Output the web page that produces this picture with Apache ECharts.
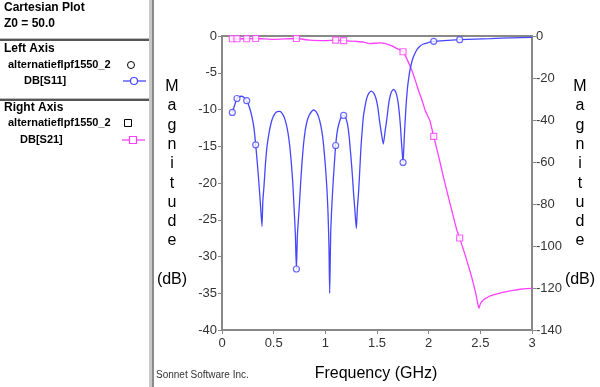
<!DOCTYPE html>
<html>
<head>
<meta charset="utf-8">
<script src="https://cdn.jsdelivr.net/npm/echarts@6/dist/echarts.min.js"></script>
<style>
html,body{margin:0;padding:0;background:#fff;}
#chart{width:600px;height:387px;}
</style>
</head>
<body>
<div id="chart"></div>
<script>
// ---- data ----
var s11Freq = [0.10,0.145,0.165,0.187,0.21,0.239,0.265,0.29,0.31,0.326,0.34,0.355,0.37,0.387,
  0.395,0.406,0.42,0.435,0.455,0.474,0.495,0.516,0.535,0.555,0.575,0.60,0.62,0.639,0.655,0.671,0.685,0.697,0.71,0.72,
  0.73,0.748,0.762,0.774,0.79,0.806,0.825,0.845,0.865,0.887,0.91,0.935,0.955,0.974,0.99,1.006,1.018,1.026,1.035,1.042,
  1.052,1.065,1.077,1.09,1.10,1.115,1.132,1.155,1.177,1.195,1.213,1.23,1.245,1.26,1.271,1.285,1.30,
  1.31,1.323,1.335,1.345,1.357,1.368,1.385,1.40,1.42,1.445,1.47,1.49,1.508,1.523,1.54,1.561,
  1.578,1.594,1.607,1.619,1.64,1.661,1.677,1.69,1.704,1.716,1.726,1.735,1.745,1.752,
  1.765,1.781,1.793,1.805,1.819,1.842,1.86,1.884,1.91,1.948,2.0,2.049,2.15,2.30,2.45,2.60,2.8,3.0];
var s11Db = [-10.4,-8.5,-8.25,-8.2,-8.35,-8.8,-9.7,-11.0,-12.6,-14.8,-17.0,-19.6,-22.5,-25.9,
  -22.5,-20.5,-17.5,-15.1,-13.2,-11.9,-11.0,-10.5,-10.3,-10.25,-10.4,-11.0,-11.9,-13.2,-14.9,-17.3,-20.0,-23.2,-27.0,-31.7,
  -27.0,-23.2,-19.8,-17.3,-14.6,-12.8,-11.5,-10.75,-10.3,-10.07,-10.3,-11.0,-12.1,-13.7,-15.9,-18.7,-21.5,-24.1,-28.5,-35.0,
  -26.8,-22.5,-19.6,-16.8,-14.9,-13.0,-11.9,-11.0,-10.8,-11.1,-11.9,-13.6,-16.0,-18.6,-20.95,-23.5,-26.2,
  -23.5,-20.95,-17.8,-15.1,-12.8,-11.0,-9.5,-8.5,-7.8,-7.5,-7.8,-8.5,-9.7,-11.4,-13.0,-14.7,
  -13.0,-11.4,-9.9,-8.7,-7.6,-7.26,-7.5,-8.0,-9.0,-10.5,-12.1,-14.1,-16.0,-17.2,
  -13.5,-9.5,-7.35,-5.9,-4.63,-3.27,-2.6,-1.9,-1.45,-1.09,-0.88,-0.73,-0.62,-0.5,-0.42,-0.35,-0.25,-0.18];
var s21Freq = [0.10,0.145,0.239,0.326,0.5,0.72,0.85,1.0,1.10,1.177,1.3,1.37,1.43,1.53,1.626,1.69,1.752,
  1.79,1.836,1.87,1.90,1.935,1.965,1.99,2.013,2.03,2.049,2.1,2.142,2.19,2.239,2.27,2.30,2.335,2.368,2.40,2.432,2.46,2.487,
  2.50,2.529,2.575,2.626,2.69,2.755,2.82,2.887,2.95,3.0];
var s21Db = [-1.3,-1.3,-1.3,-1.2,-1.6,-1.2,-2.0,-2.2,-2.0,-2.2,-2.6,-2.9,-3.6,-3.3,-4.3,-5.9,-7.5,
  -11,-16.2,-21,-25.7,-30.5,-35.2,-38,-40.5,-44,-47.8,-58,-67,-76.5,-86,-92,-96.2,-101.5,-106.7,-112,-117.8,-123.5,-129.7,
  -127.5,-125.7,-124.3,-123.3,-122.4,-121.7,-121.1,-120.6,-120.3,-120.2];
var markFreq = [0.10,0.145,0.239,0.326,0.72,1.10,1.177,1.752,2.049,2.30];
var s11Mark  = [-10.4,-8.5,-8.8,-14.8,-31.7,-14.9,-10.8,-17.2,-0.73,-0.5];
var s21Mark  = [-1.3,-1.3,-1.3,-1.2,-1.2,-2.0,-2.2,-7.5,-47.8,-96.2];
var xTicks = {min:0, max:3, step:0.5};
var leftTicks = {min:-40, max:0, step:5};
var rightTicks = {min:-140, max:0, step:20};

function pairs(xs, ys){ return xs.map(function(x,i){ return [x, ys[i]]; }); }

var BLUE = '#4646ff', MAG = '#ff40ff';
var FONT = '"Liberation Sans", Arial, sans-serif';

var chart = echarts.init(document.getElementById('chart'), null, {renderer:'canvas'});

var axisCommon = {
  axisLine:{show:true, onZero:false, lineStyle:{color:'#888', width:2}},
  axisTick:{show:true, length:4, lineStyle:{color:'#888', width:1}},
  splitLine:{show:false}
};

var vtitle = 'M\na\ng\nn\ni\nt\nu\nd\ne\n\n(dB)';

var option = {
  animation:false,
  backgroundColor:'#fff',
  grid:{left:222, right:68, top:36, bottom:57, show:true, borderColor:'#888', borderWidth:2, backgroundColor:'transparent'},
  xAxis:Object.assign({type:'value', min:xTicks.min, max:xTicks.max, interval:xTicks.step}, axisCommon,
    {axisLabel:{color:'#333', fontSize:13, fontFamily:FONT, margin:7}}),
  yAxis:[
    Object.assign({type:'value', position:'left', min:leftTicks.min, max:leftTicks.max, interval:leftTicks.step}, axisCommon,
      {axisLabel:{color:'#333', fontSize:13, fontFamily:FONT, margin:5}}),
    Object.assign({type:'value', position:'right', min:rightTicks.min, max:rightTicks.max, interval:rightTicks.step}, axisCommon,
      {axisLabel:{color:'#333', fontSize:13, fontFamily:FONT, margin:4}})
  ],
  series:[
    {type:'line', yAxisIndex:0, data:pairs(s11Freq, s11Db), showSymbol:false, smooth:0.2,
     lineStyle:{color:BLUE, width:1.3}, itemStyle:{color:BLUE}, z:3},
    {type:'scatter', yAxisIndex:0, data:pairs(markFreq, s11Mark), symbol:'circle', symbolSize:6,
     itemStyle:{color:'#fff', borderColor:BLUE, borderWidth:1.2}, z:5},
    {type:'line', yAxisIndex:1, data:pairs(s21Freq, s21Db), showSymbol:false, smooth:0.2,
     lineStyle:{color:MAG, width:1.3}, itemStyle:{color:MAG}, z:2},
    {type:'scatter', yAxisIndex:1, data:pairs(markFreq, s21Mark), symbol:'rect', symbolSize:6,
     itemStyle:{color:'#fff', borderColor:MAG, borderWidth:1.2}, z:4}
  ],
  graphic:[
    // left panel
    {type:'text', left:4, top:2, style:{text:'Cartesian Plot', font:'bold 12px '+FONT, fill:'#000'}},
    {type:'text', left:4, top:18, style:{text:'Z0 = 50.0', font:'bold 12px '+FONT, fill:'#000'}},
    {type:'rect', shape:{x:0, y:38, width:150, height:1}, style:{fill:'#bbb'}},
    {type:'rect', shape:{x:0, y:39, width:150, height:2}, style:{fill:'#555'}},
    {type:'text', left:4, top:43, style:{text:'Left Axis', font:'bold 12px '+FONT, fill:'#000'}},
    {type:'text', left:8, top:59, style:{text:'alternatieflpf1550_2', font:'bold 11px '+FONT, fill:'#000'}},
    {type:'circle', shape:{cx:131, cy:65, r:3.5}, style:{fill:'#fff', stroke:'#000', lineWidth:1}},
    {type:'text', left:24, top:75, style:{text:'DB[S11]', font:'bold 11px '+FONT, fill:'#000'}},
    {type:'line', shape:{x1:123, y1:81, x2:146, y2:81}, style:{stroke:BLUE, lineWidth:1.3}},
    {type:'circle', shape:{cx:134, cy:81, r:3.5}, style:{fill:'#fff', stroke:BLUE, lineWidth:1.2}},
    {type:'rect', shape:{x:0, y:98, width:150, height:1}, style:{fill:'#bbb'}},
    {type:'rect', shape:{x:0, y:99, width:150, height:2}, style:{fill:'#555'}},
    {type:'text', left:4, top:102, style:{text:'Right Axis', font:'bold 12px '+FONT, fill:'#000'}},
    {type:'text', left:8, top:117, style:{text:'alternatieflpf1550_2', font:'bold 11px '+FONT, fill:'#000'}},
    {type:'rect', shape:{x:124.5, y:119.5, width:7, height:7}, style:{fill:'#fff', stroke:'#000', lineWidth:1}},
    {type:'text', left:20, top:134, style:{text:'DB[S21]', font:'bold 11px '+FONT, fill:'#000'}},
    {type:'line', shape:{x1:122, y1:140, x2:145, y2:140}, style:{stroke:MAG, lineWidth:1.3}},
    {type:'rect', shape:{x:129.5, y:136.5, width:7, height:7}, style:{fill:'#fff', stroke:MAG, lineWidth:1.2}},
    {type:'rect', shape:{x:149, y:0, width:3, height:387}, style:{fill:'#c8c8c8'}},
    {type:'rect', shape:{x:152, y:0, width:2, height:387}, style:{fill:'#8a8a8a'}},
    // axis titles
    {type:'text', x:172, y:77, style:{text:vtitle, font:'16px '+FONT, fill:'#000', textAlign:'center', lineHeight:19.3}},
    {type:'text', x:580, y:77, style:{text:vtitle, font:'16px '+FONT, fill:'#000', textAlign:'center', lineHeight:19.3}},
    {type:'text', x:376, y:366, style:{text:'Frequency (GHz)', font:'16px '+FONT, fill:'#000', textAlign:'center'}},
    {type:'text', x:156, y:370, style:{text:'Sonnet Software Inc.', font:'10px '+FONT, fill:'#333'}}
  ]
};
chart.setOption(option);
</script>
</body>
</html>
